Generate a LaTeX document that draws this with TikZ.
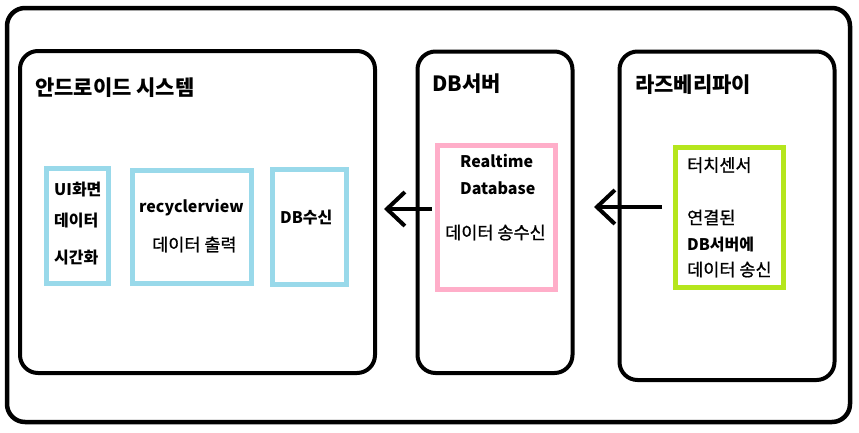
\documentclass[tikz,border=0pt]{standalone}
\usepackage{fontspec}
\setmainfont{Noto Sans CJK KR}
\newfontfamily\krmid[FakeBold=0.8]{Noto Sans CJK KR}
\usetikzlibrary{arrows.meta}
\definecolor{paintblue}{RGB}{153,217,234}
\definecolor{paintpink}{RGB}{255,174,201}
\definecolor{paintlime}{RGB}{181,230,29}

\begin{document}
\begin{tikzpicture}[x=1pt,y=-1pt,
  frame/.style={draw=black, line width=4pt, rounded corners=18pt, inner sep=0pt},
  part/.style={draw, line width=5pt, inner sep=0pt},
  title/.style={anchor=west, inner sep=0pt, font=\fontsize{21}{25}\selectfont\bfseries},
  txt/.style={anchor=west, inner sep=0pt, font=\fontsize{17.5}{20}\krmid},
  btxt/.style={anchor=west, inner sep=0pt, font=\fontsize{16}{19}\selectfont\bfseries},
  flow/.style={line width=4pt, -{Straight Barb[length=18pt,width=34pt]}}]
\useasboundingbox (0,0) rectangle (859,432);
\node[frame, line width=4.5pt, minimum width=843pt, minimum height=414pt] (whole) at (428.5,215) {};
\node[frame, minimum width=355pt, minimum height=322pt] (android) at (197.5,212) {};
\node[frame, minimum width=155pt, minimum height=321.5pt] (dbserver) at (495,212.25) {};
\node[frame, minimum width=215pt, minimum height=328.5pt] (raspi) at (727,215.75) {};
\node[title] (androidtitle) at (35,88) {안드로이드 시스템};
\node[title] (dbtitle) at (432,84) {DB서버};
\node[title] (raspititle) at (635,85) {라즈베리파이};
\node[part, draw=paintblue, minimum width=62pt, minimum height=115pt] (uibox) at (77.5,225.5) {};
\node[part, draw=paintblue, minimum width=119pt, minimum height=113pt] (recycler) at (191.5,226.5) {};
\node[part, draw=paintblue, minimum width=74pt, minimum height=115.5pt] (receive) at (309,226.75) {};
\node[part, draw=paintpink, minimum width=117.5pt, minimum height=144pt] (realtime) at (496.25,217.5) {};
\node[part, draw=paintlime, minimum width=108pt, minimum height=140pt] (sensor) at (729.5,217.5) {};
\node[btxt] (ui1) at (54,190) {UI화면};
\node[btxt] (ui2) at (54,221) {데이터};
\node[btxt] (ui3) at (54,257.5) {시간화};
\node[btxt] (rv1) at (139,208) {recyclerview};
\node[txt] (rv2) at (152,244.5) {데이터 출력};
\node[btxt] (rc1) at (280,217.5) {DB수신};
\node[btxt] (rt1) at (460,160.5) {Realtime};
\node[btxt] (rt2) at (460,188) {Database};
\node[txt] (rt3) at (445,232.5) {데이터 송수신};
\node[txt] (ts1) at (687,165) {터치센서};
\node[txt] (ts2) at (687,217.5) {연결된};
\node[btxt] (ts3) at (687,244.5) {DB서버에};
\node[txt] (ts4) at (687,269.5) {데이터 송신};
\coordinate (fromdb) at (432,209);
\coordinate (toandroid) at (384,209);
\coordinate (fromsensor) at (662,207);
\coordinate (todb) at (594,207);
\draw[flow] (fromdb) -- (toandroid);
\draw[flow] (fromsensor) -- (todb);
\end{tikzpicture}
\end{document}
